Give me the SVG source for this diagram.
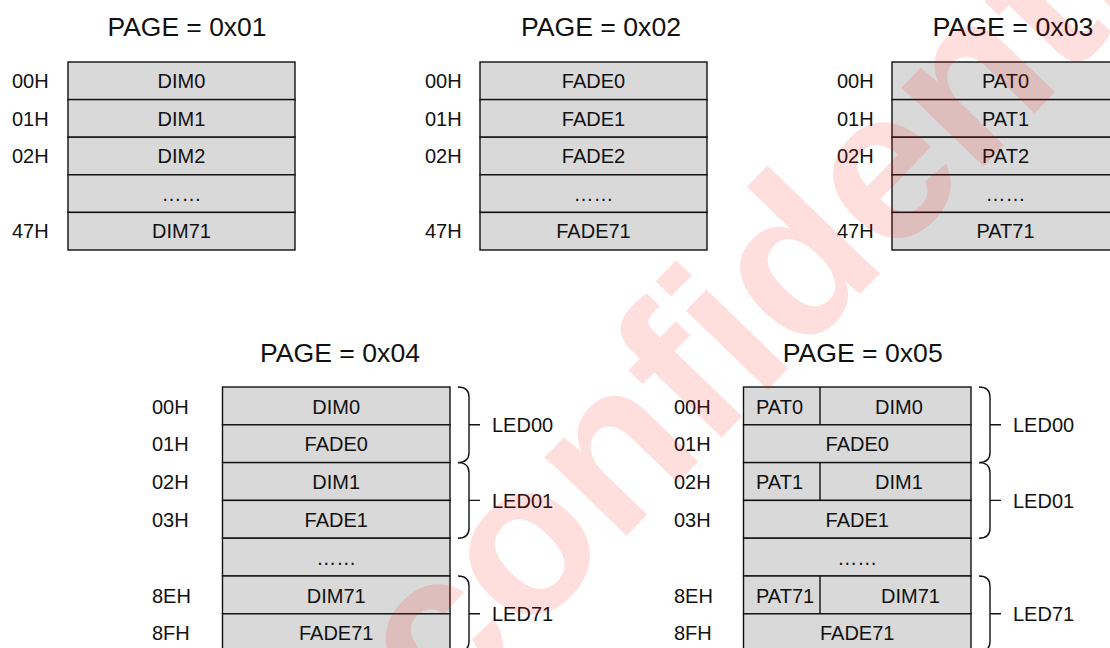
<svg xmlns="http://www.w3.org/2000/svg" width="1110" height="648" viewBox="0 0 1110 648">
<style>
text{font-family:"Liberation Sans",Arial,sans-serif;fill:#111}
.t{font-size:26px;text-anchor:middle}
.l{font-size:20px}
.c{font-size:20px;text-anchor:middle}
.cell{fill:#d9d9d9;stroke:#111;stroke-width:1.4}
.div{stroke:#111;stroke-width:1.4;fill:none}
.br{fill:none;stroke:#111;stroke-width:1.4}
.wm{font-family:"Liberation Sans",Arial,sans-serif;font-weight:bold;font-size:215px;fill:#ff0000;fill-opacity:0.13}
</style>
<rect width="1110" height="648" fill="#fff"/>

<!-- PAGE 0x01 -->
<g id="page01">
<text class="t" x="187" y="36" textLength="159" lengthAdjust="spacingAndGlyphs">PAGE = 0x01</text>
<g id="p1r0"><rect class="cell" x="68" y="62" width="227" height="37.6"/><text class="l" x="12" y="88">00H</text><text class="c" x="181.5" y="88">DIM0</text></g>
<g id="p1r1"><rect class="cell" x="68" y="99.6" width="227" height="37.6"/><text class="l" x="12" y="125.6">01H</text><text class="c" x="181.5" y="125.6">DIM1</text></g>
<g id="p1r2"><rect class="cell" x="68" y="137.2" width="227" height="37.6"/><text class="l" x="12" y="163.2">02H</text><text class="c" x="181.5" y="163.2">DIM2</text></g>
<g id="p1r3"><rect class="cell" x="68" y="174.8" width="227" height="37.6"/><text class="c" x="181.5" y="200.8">……</text></g>
<g id="p1r4"><rect class="cell" x="68" y="212.4" width="227" height="37.6"/><text class="l" x="12" y="238.4">47H</text><text class="c" x="181.5" y="238.4">DIM71</text></g>
</g>

<!-- PAGE 0x02 -->
<g id="page02">
<text class="t" x="601" y="36" textLength="160" lengthAdjust="spacingAndGlyphs">PAGE = 0x02</text>
<g id="p2r0"><rect class="cell" x="480" y="62" width="227" height="37.6"/><text class="l" x="425" y="88">00H</text><text class="c" x="593.5" y="88">FADE0</text></g>
<g id="p2r1"><rect class="cell" x="480" y="99.6" width="227" height="37.6"/><text class="l" x="425" y="125.6">01H</text><text class="c" x="593.5" y="125.6">FADE1</text></g>
<g id="p2r2"><rect class="cell" x="480" y="137.2" width="227" height="37.6"/><text class="l" x="425" y="163.2">02H</text><text class="c" x="593.5" y="163.2">FADE2</text></g>
<g id="p2r3"><rect class="cell" x="480" y="174.8" width="227" height="37.6"/><text class="c" x="593.5" y="200.8">……</text></g>
<g id="p2r4"><rect class="cell" x="480" y="212.4" width="227" height="37.6"/><text class="l" x="425" y="238.4">47H</text><text class="c" x="593.5" y="238.4">FADE71</text></g>
</g>

<!-- PAGE 0x03 -->
<g id="page03">
<text class="t" x="1013" y="36" textLength="161" lengthAdjust="spacingAndGlyphs">PAGE = 0x03</text>
<g id="p3r0"><rect class="cell" x="892" y="62" width="227" height="37.6"/><text class="l" x="837" y="88">00H</text><text class="c" x="1005.5" y="88">PAT0</text></g>
<g id="p3r1"><rect class="cell" x="892" y="99.6" width="227" height="37.6"/><text class="l" x="837" y="125.6">01H</text><text class="c" x="1005.5" y="125.6">PAT1</text></g>
<g id="p3r2"><rect class="cell" x="892" y="137.2" width="227" height="37.6"/><text class="l" x="837" y="163.2">02H</text><text class="c" x="1005.5" y="163.2">PAT2</text></g>
<g id="p3r3"><rect class="cell" x="892" y="174.8" width="227" height="37.6"/><text class="c" x="1005.5" y="200.8">……</text></g>
<g id="p3r4"><rect class="cell" x="892" y="212.4" width="227" height="37.6"/><text class="l" x="837" y="238.4">47H</text><text class="c" x="1005.5" y="238.4">PAT71</text></g>
</g>

<!-- PAGE 0x04 -->
<g id="page04">
<text class="t" x="340" y="362" textLength="160" lengthAdjust="spacingAndGlyphs">PAGE = 0x04</text>
<g id="p4r0"><rect class="cell" x="222.5" y="387" width="227.5" height="37.8"/><text class="l" x="152" y="413.5">00H</text><text class="c" x="336.2" y="413.5">DIM0</text></g>
<g id="p4r1"><rect class="cell" x="222.5" y="424.8" width="227.5" height="37.8"/><text class="l" x="152" y="451.3">01H</text><text class="c" x="336.2" y="451.3">FADE0</text></g>
<g id="p4r2"><rect class="cell" x="222.5" y="462.6" width="227.5" height="37.8"/><text class="l" x="152" y="489.1">02H</text><text class="c" x="336.2" y="489.1">DIM1</text></g>
<g id="p4r3"><rect class="cell" x="222.5" y="500.4" width="227.5" height="37.8"/><text class="l" x="152" y="526.9">03H</text><text class="c" x="336.2" y="526.9">FADE1</text></g>
<g id="p4r4"><rect class="cell" x="222.5" y="538.2" width="227.5" height="37.8"/><text class="c" x="336.2" y="564.7">……</text></g>
<g id="p4r5"><rect class="cell" x="222.5" y="576" width="227.5" height="37.8"/><text class="l" x="152" y="602.5">8EH</text><text class="c" x="336.2" y="602.5">DIM71</text></g>
<g id="p4r6"><rect class="cell" x="222.5" y="613.8" width="227.5" height="37.8"/><text class="l" x="152" y="640.3">8FH</text><text class="c" x="336.2" y="640.3">FADE71</text></g>
<text class="l" x="492" y="431.7">LED00</text>
<text class="l" x="492" y="508">LED01</text>
<text class="l" x="492" y="621">LED71</text>
</g>

<!-- PAGE 0x05 -->
<g id="page05">
<text class="t" x="862.7" y="362" textLength="160" lengthAdjust="spacingAndGlyphs">PAGE = 0x05</text>
<g id="p5r0"><rect class="cell" x="743.5" y="387" width="227.5" height="37.8"/><line class="div" x1="820" y1="387" x2="820" y2="424.8"/><text class="l" x="674" y="413.5">00H</text><text class="l" x="756" y="413.5">PAT0</text><text class="l" x="875" y="413.5">DIM0</text></g>
<g id="p5r1"><rect class="cell" x="743.5" y="424.8" width="227.5" height="37.8"/><text class="l" x="674" y="451.3">01H</text><text class="c" x="857.2" y="451.3">FADE0</text></g>
<g id="p5r2"><rect class="cell" x="743.5" y="462.6" width="227.5" height="37.8"/><line class="div" x1="820" y1="462.6" x2="820" y2="500.4"/><text class="l" x="674" y="489.1">02H</text><text class="l" x="756" y="489.1">PAT1</text><text class="l" x="875" y="489.1">DIM1</text></g>
<g id="p5r3"><rect class="cell" x="743.5" y="500.4" width="227.5" height="37.8"/><text class="l" x="674" y="526.9">03H</text><text class="c" x="857.2" y="526.9">FADE1</text></g>
<g id="p5r4"><rect class="cell" x="743.5" y="538.2" width="227.5" height="37.8"/><text class="c" x="857.2" y="564.7">……</text></g>
<g id="p5r5"><rect class="cell" x="743.5" y="576" width="227.5" height="37.8"/><line class="div" x1="820" y1="576" x2="820" y2="613.8"/><text class="l" x="674" y="602.5">8EH</text><text class="l" x="756" y="602.5">PAT71</text><text class="l" x="881" y="602.5">DIM71</text></g>
<g id="p5r6"><rect class="cell" x="743.5" y="613.8" width="227.5" height="37.8"/><text class="l" x="674" y="640.3">8FH</text><text class="c" x="857.2" y="640.3">FADE71</text></g>
<text class="l" x="1013" y="431.7">LED00</text>
<text class="l" x="1013" y="508">LED01</text>
<text class="l" x="1013" y="621">LED71</text>
</g>

<!-- braces -->
<g id="connectors">
<path class="br" d="M458,387 Q469,387 469,397 V452.6 Q469,462.6 458,462.6 M469,424.8 H480"/>
<path class="br" d="M458,462.6 Q469,462.6 469,472.6 V528.2 Q469,538.2 458,538.2 M469,500.4 H480"/>
<path class="br" d="M458,576 Q469,576 469,586 V641.6 Q469,651.6 458,651.6 M469,613.8 H480"/>
<path class="br" d="M979,387 Q990,387 990,397 V452.6 Q990,462.6 979,462.6 M990,424.8 H1001"/>
<path class="br" d="M979,462.6 Q990,462.6 990,472.6 V528.2 Q990,538.2 979,538.2 M990,500.4 H1001"/>
<path class="br" d="M979,576 Q990,576 990,586 V641.6 Q990,651.6 979,651.6 M990,613.8 H1001"/>
</g>

<!-- watermark -->
<text class="wm" transform="translate(442,727) rotate(-46)">confidential</text>
</svg>
